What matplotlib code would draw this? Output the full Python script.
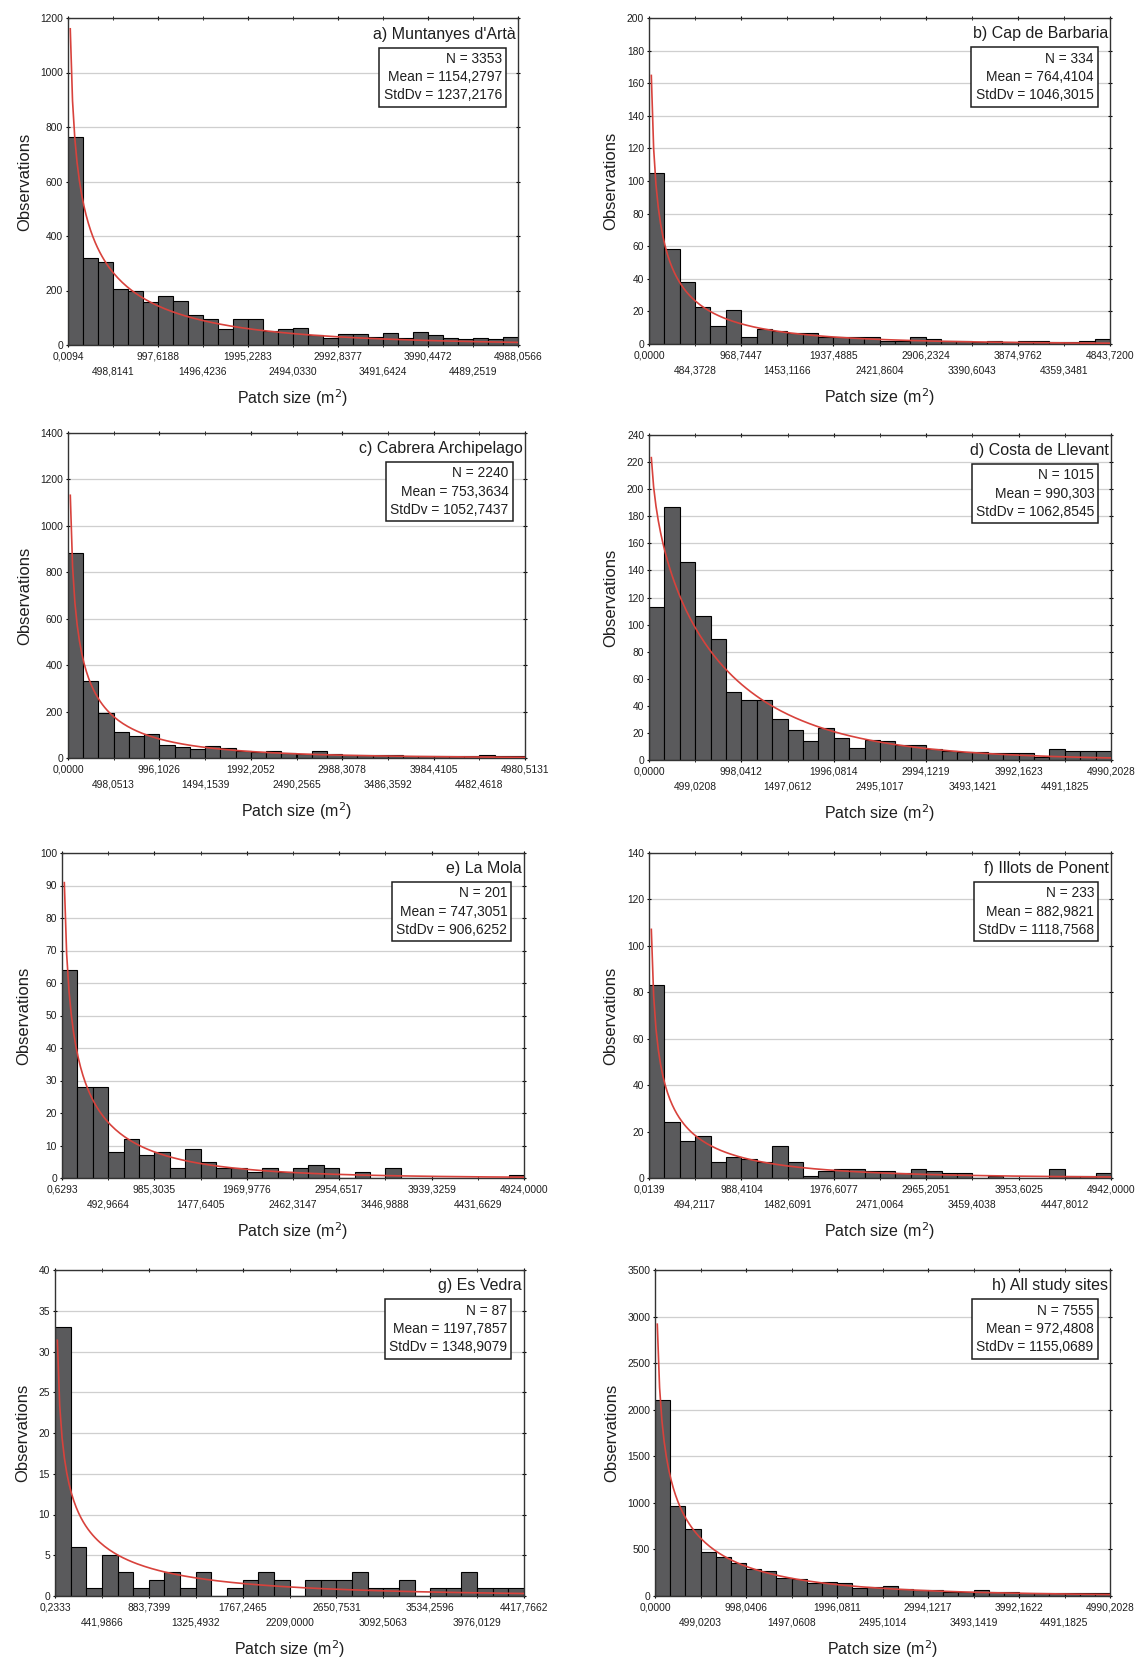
import math
import numpy as np
import matplotlib
matplotlib.use("Agg")
import matplotlib.pyplot as plt

plt.rcParams["font.family"] = ["Liberation Sans", "DejaVu Sans"]

# --- data -----------------------------------------------------------------
sites = ["a) Muntanyes d'Artà", "b) Cap de Barbaria", "c) Cabrera Archipelago",
         "d) Costa de Llevant", "e) La Mola", "f) Illots de Ponent",
         "g) Es Vedra", "h) All study sites"]
n_txt = ["3353", "334", "2240", "1015", "201", "233", "87", "7555"]
mean_txt = ["1154,2797", "764,4104", "753,3634", "990,303",
            "747,3051", "882,9821", "1197,7857", "972,4808"]
std_txt = ["1237,2176", "1046,3015", "1052,7437", "1062,8545",
           "906,6252", "1118,7568", "1348,9079", "1155,0689"]

# observations per class (30 classes per site)
counts_a = [765, 321, 305, 204, 200, 159, 180, 163, 110, 94,
            58, 94, 94, 51, 58, 64, 37, 24, 39, 39,
            31, 43, 27, 49, 37, 24, 21, 27, 21, 31]
counts_b = [105, 58, 38, 23, 11, 21, 4, 9, 8, 7,
            7, 4, 4, 4, 4, 2, 2, 4, 3, 2,
            2, 1, 2, 1, 2, 2, 1, 1, 2, 3]
counts_c = [883, 330, 194, 112, 96, 103, 57, 47, 39, 53,
            43, 29, 24, 29, 22, 17, 29, 17, 14, 14,
            14, 14, 10, 10, 7, 10, 7, 14, 10, 7]
counts_d = [113, 187, 146, 106, 89, 50, 44, 44, 30, 22,
            14, 24, 16, 9, 15, 14, 11, 11, 8, 7,
            6, 6, 5, 5, 5, 2, 8, 7, 7, 7]
counts_e = [64, 28, 28, 8, 12, 7, 8, 3, 9, 5,
            3, 3, 2, 3, 2, 3, 4, 3, 0, 2,
            0, 3, 0, 0, 0, 0, 0, 0, 0, 1]
counts_f = [83, 24, 16, 18, 7, 9, 8, 7, 14, 7,
            1, 3, 4, 4, 3, 3, 2, 4, 3, 2,
            2, 0, 1, 0, 0, 0, 4, 1, 1, 2]
counts_g = [33, 6, 1, 5, 3, 1, 2, 3, 1, 3,
            0, 1, 2, 3, 2, 0, 2, 2, 2, 3,
            1, 1, 2, 0, 1, 1, 3, 1, 1, 1]
counts_h = [2100, 966, 723, 476, 422, 351, 286, 272, 197, 179,
            136, 147, 136, 82, 100, 107, 72, 64, 64, 47,
            47, 64, 39, 47, 36, 29, 29, 36, 29, 36]
counts = [counts_a, counts_b, counts_c, counts_d,
          counts_e, counts_f, counts_g, counts_h]

# class limits shown under each histogram
xticks_a = ["0,0094", "498,8141", "997,6188", "1496,4236", "1995,2283", "2494,0330",
            "2992,8377", "3491,6424", "3990,4472", "4489,2519", "4988,0566"]
xticks_b = ["0,0000", "484,3728", "968,7447", "1453,1166", "1937,4885", "2421,8604",
            "2906,2324", "3390,6043", "3874,9762", "4359,3481", "4843,7200"]
xticks_c = ["0,0000", "498,0513", "996,1026", "1494,1539", "1992,2052", "2490,2565",
            "2988,3078", "3486,3592", "3984,4105", "4482,4618", "4980,5131"]
xticks_d = ["0,0000", "499,0208", "998,0412", "1497,0612", "1996,0814", "2495,1017",
            "2994,1219", "3493,1421", "3992,1623", "4491,1825", "4990,2028"]
xticks_e = ["0,6293", "492,9664", "985,3035", "1477,6405", "1969,9776", "2462,3147",
            "2954,6517", "3446,9888", "3939,3259", "4431,6629", "4924,0000"]
xticks_f = ["0,0139", "494,2117", "988,4104", "1482,6091", "1976,6077", "2471,0064",
            "2965,2051", "3459,4038", "3953,6025", "4447,8012", "4942,0000"]
xticks_g = ["0,2333", "441,9866", "883,7399", "1325,4932", "1767,2465", "2209,0000",
            "2650,7531", "3092,5063", "3534,2596", "3976,0129", "4417,7662"]
xticks_h = ["0,0000", "499,0203", "998,0406", "1497,0608", "1996,0811", "2495,1014",
            "2994,1217", "3493,1419", "3992,1622", "4491,1825", "4990,2028"]
xticks = [xticks_a, xticks_b, xticks_c, xticks_d,
          xticks_e, xticks_f, xticks_g, xticks_h]

y_max = [1200, 200, 1400, 240, 100, 140, 40, 3500]
y_step = [200, 20, 200, 20, 10, 20, 5, 500]

# Weibull shape of the fitted curve for each site
fit_shape = [0.7, 0.65, 0.65, 0.9, 0.7, 0.65, 0.65, 0.7]

# --- layout (pixels of a 1137 x 1666 figure: left, right, top, bottom) ----
W, H = 1137, 1666
boxes = [(68, 518, 18, 345), (649, 1110, 18, 344),
         (68, 525, 433, 758), (649, 1111, 435, 760),
         (62, 524, 853, 1178), (649, 1111, 853, 1178),
         (55, 524, 1270, 1596), (655, 1110, 1270, 1596)]

BAR = "#5a5a5c"
RED = "#d8423c"
GRID = "#cfcfcf"
INK = "#1e1e1e"


def num(s):
    return float(s.replace(",", "."))


def draw_panel(ax, i):
    labels = xticks[i]
    lo, hi = num(labels[0]), num(labels[-1])
    nbin = len(counts[i])
    edges = np.linspace(lo, hi, nbin + 1)
    bw = edges[1] - edges[0]

    ax.set_axisbelow(True)
    ax.yaxis.grid(True, color=GRID, lw=0.9)
    ax.bar(edges[:-1], counts[i], width=bw, align="edge",
           color=BAR, edgecolor="black", linewidth=0.8, zorder=2)

    # fitted Weibull curve, scaled to counts per class
    k = fit_shape[i]
    m = num(mean_txt[i])
    lam = m / math.gamma(1 + 1 / k)
    x = np.linspace(lo, hi, 200)[1:]
    z = (x - lo) / lam
    dens = (k / lam) * z ** (k - 1) * np.exp(-z ** k)
    ax.plot(x, int(n_txt[i]) * bw * dens, color=RED, lw=1.2, zorder=3)

    ax.set_xlim(lo, hi)
    ax.set_ylim(0, y_max[i])
    ax.set_yticks(np.arange(0, y_max[i] + 1, y_step[i]))

    pos = edges[::3]
    ax.set_xticks(pos[::2], labels[::2])
    ax.set_xticks(pos[1::2], labels[1::2], minor=True)
    ax.tick_params(axis="x", which="both", labelsize=7.4, length=3,
                   direction="inout", top=True, labelcolor=INK)
    ax.tick_params(axis="x", which="minor", pad=14)
    ax.tick_params(axis="x", which="major", pad=3)
    ax.tick_params(axis="y", labelsize=7.4, length=3, direction="inout",
                   right=True, pad=2, labelcolor=INK)

    for sp in ax.spines.values():
        sp.set_linewidth(1.0)
        sp.set_color("#333333")

    ax.set_xlabel("Patch size (m$^2$)", fontsize=11.5, labelpad=8, color=INK)
    ax.set_ylabel("Observations", fontsize=12, labelpad=6, color=INK)

    ax.text(0.996, 0.974, sites[i], transform=ax.transAxes, ha="right",
            va="top", fontsize=11.5, color=INK, zorder=5)
    stats = f"N = {n_txt[i]}\nMean = {mean_txt[i]}\nStdDv = {std_txt[i]}"
    ax.text(0.964, 0.897, stats, transform=ax.transAxes, ha="right",
            va="top", fontsize=9.9, linespacing=1.4, color=INK,
            multialignment="right", zorder=5,
            bbox=dict(boxstyle="square,pad=0.3", fc="white",
                      ec=INK, lw=1.1))


fig = plt.figure(figsize=(W / 100, H / 100), dpi=100)
for i, (l, r, t, b) in enumerate(boxes):
    ax = fig.add_axes([l / W, 1 - b / H, (r - l) / W, (b - t) / H])
    draw_panel(ax, i)

fig.savefig("out.png", dpi=100, facecolor="white")
